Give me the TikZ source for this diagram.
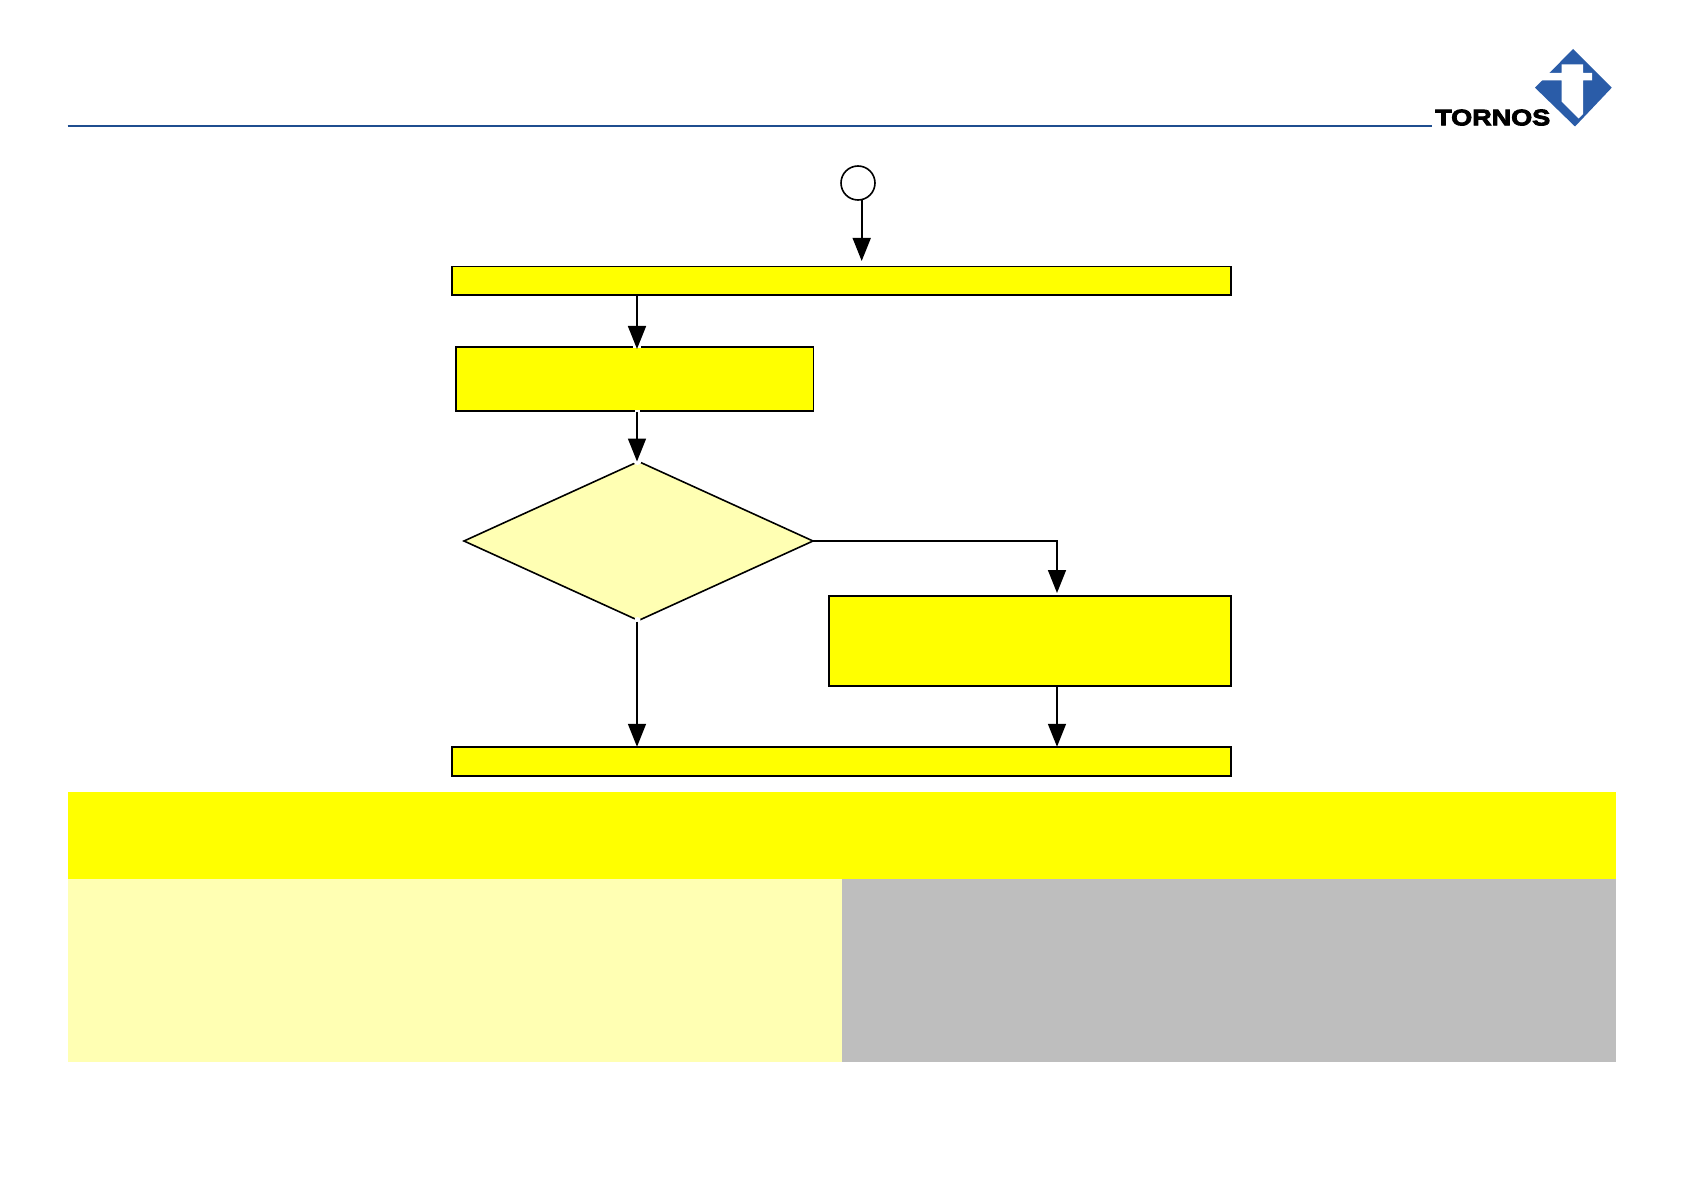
\documentclass[tikz,border=0pt]{standalone}
\usepackage{fontspec}
\usetikzlibrary{arrows.meta,shapes.geometric}
\newfontfamily\logofont[FakeStretch=1.2,FakeBold=4]{Liberation Sans Bold}
\definecolor{bandyellow}{HTML}{FFFF00}
\definecolor{paleyellow}{HTML}{FFFFB3}
\definecolor{panelgrey}{HTML}{BEBEBE}
\definecolor{ruleblue}{HTML}{1F4E8F}
\definecolor{logoblue}{HTML}{2A5CA8}
\tikzset{
  x=1pt,y=-1pt,
  plain/.style={inner sep=0pt,outer sep=0pt,anchor=north west},
  flowbox/.style={plain,draw=black,fill=bandyellow,line width=1.6pt,line join=miter},
  panel/.style={plain,draw=none},
  conn/.style={draw=black,line width=1.6pt,-{Triangle[length=23pt,width=18pt,black]}},
  notch/.style={fill=white,draw=none},
}
\begin{document}
\begin{tikzpicture}
\useasboundingbox (0,0) rectangle (1684,1190);
\fill[white] (0,0) rectangle (1684,1190);
% header
\draw[ruleblue,line width=1.6pt] (67.7,125.8) -- (1432,125.8);
% logo
\fill[logoblue] (1573,49) -- (1611.7,87.7) -- (1575,126.5) -- (1535,87.7) -- cycle;
\fill[white] (1561.7,64.3) -- (1583,64.3) -- (1583,73) -- (1592,73) -- (1592,80.5) -- (1583,80.5) -- (1583,114) -- (1578.5,118.5) -- (1561.7,101.7) -- (1561.7,80.5) -- (1540,80.5) -- (1540,73) -- (1561.7,73) -- cycle;
\node[anchor=base west,inner sep=0pt,font=\logofont\fontsize{22.5}{22.5}\selectfont] (logotext) at (1435,125.3) {TORNOS};
% bands
\node[panel,fill=bandyellow,minimum width=1548.3pt,minimum height=87pt] (band) at (67.7,791.8) {};
\node[panel,fill=paleyellow,minimum width=774.2pt,minimum height=183pt] (panelL) at (67.7,878.8) {};
\node[panel,fill=panelgrey,minimum width=774.1pt,minimum height=183pt] (panelR) at (841.9,878.8) {};
% flow nodes
\node[draw=black,fill=white,circle,line width=1.6pt,minimum size=34pt,inner sep=0pt,outer sep=0pt] (start) at (858,183) {};
\node[flowbox,minimum width=779pt,minimum height=28.5pt] (top) at (452,266.5) {};
\node[flowbox,minimum width=357.5pt,minimum height=64.5pt] (second) at (455.8,346.7) {};
\node[diamond,draw=black,fill=paleyellow,line width=1.6pt,line join=miter,minimum width=349pt,minimum height=159pt,aspect=2.2,inner sep=0pt,outer sep=0pt] (decision) at (638.5,541) {};
\node[flowbox,minimum width=402.2pt,minimum height=90pt] (side) at (828.8,596) {};
\node[flowbox,minimum width=779pt,minimum height=29pt] (bottom) at (452,746.8) {};
% small white breaks where connectors meet outlines
\fill[notch] (633,345.5) rectangle (641,348);
\fill[notch] (634.5,410) rectangle (639.5,412.5);
\fill[notch] (637.5,461) circle (4pt);
\fill[notch] (637.5,620) circle (3pt);
% connectors
\draw[conn,shorten >=5.5pt] ([xshift=3.7pt]start.south) -- ([xshift=20.2pt]top.north);
\draw[conn,shorten >=-2.3pt] ([xshift=-204.5pt]top.south) -- ([xshift=2.45pt]second.north);
\draw[conn,shorten <=1pt] ([xshift=2.45pt]second.south) -- ([xshift=-1.5pt]decision.north);
\draw[conn,shorten >=3pt] (decision.east) -| ([xshift=27.1pt]side.north);
\draw[conn,shorten <=1pt] ([xshift=27.1pt]side.south) -- ([xshift=215.5pt]bottom.north);
\draw[conn,shorten <=1pt] ([xshift=-1.5pt]decision.south) -- ([xshift=-204.5pt]bottom.north);
\end{tikzpicture}
\end{document}
